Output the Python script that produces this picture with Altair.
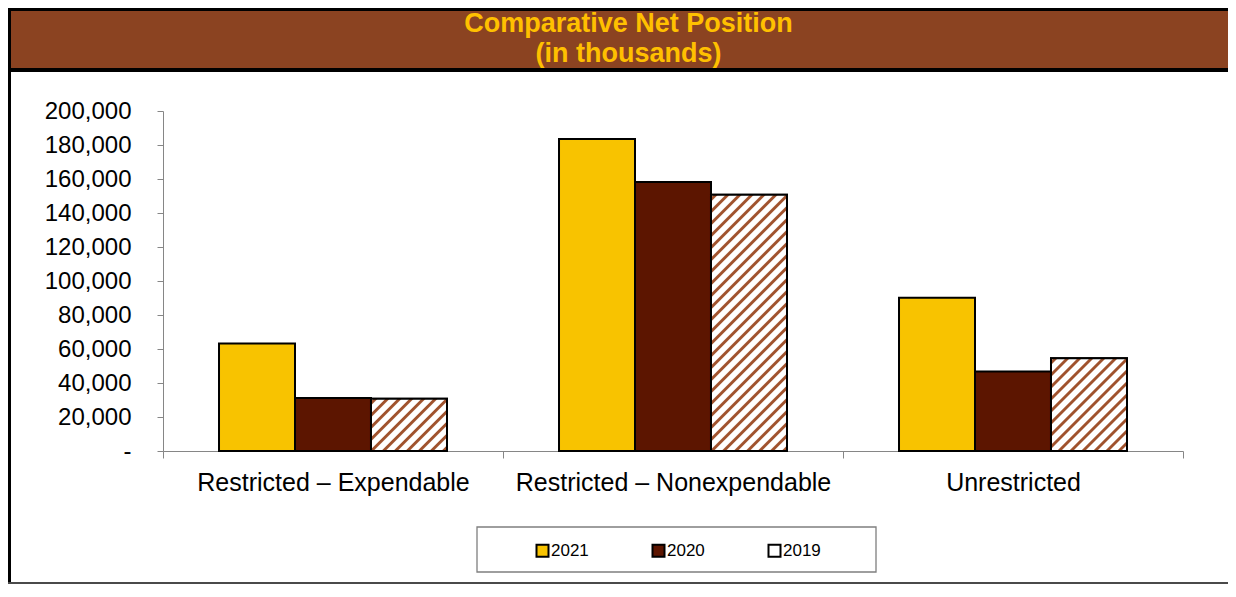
import altair as alt
import pandas as pd

# ---- data ----
categories = ["Restricted – Expendable", "Restricted – Nonexpendable", "Unrestricted"]
years = ["2021", "2020", "2019"]
v2021 = [63200, 183600, 90200]
v2020 = [31200, 158300, 46800]
v2019 = [30800, 150700, 54600]
y_ticks = [0, 20000, 40000, 60000, 80000, 100000, 120000, 140000, 160000, 180000, 200000]
title_lines = ["Comparative Net Position", "(in thousands)"]

colors = ["#F8C300", "#5C1500", "#FFFFFF"]
hatch_color = "#A0522D"
FONT = "Liberation Sans"

# ---- layout ----
PW, PH = 1020, 340
PAD = {"left": 155, "top": 103, "right": 45, "bottom": 133}
Y_MAX = 200000
OFFSET_PAD_OUTER = 0.737  # empty space around each group of three bars

rows = []
for series, vals in zip(years, [v2021, v2020, v2019]):
    for c, v in zip(categories, vals):
        rows.append({"category": c, "year": series, "value": v})
df = pd.DataFrame(rows)

x_enc = alt.X("category:N", sort=categories, title=None,
              scale=alt.Scale(paddingInner=0, paddingOuter=0),
              axis=alt.Axis(labelAngle=0, labelFont=FONT, labelFontSize=25, labelColor="black",
                            labelLimit=600,
                            domainColor="#868686", tickColor="#868686", tickSize=7,
                            tickBand="extent", labelPadding=12, grid=False))
xo_enc = alt.XOffset("year:N", sort=years,
                     scale=alt.Scale(domain=years, paddingInner=0, paddingOuter=OFFSET_PAD_OUTER))
y_enc = alt.Y("value:Q", title=None,
              scale=alt.Scale(domain=[0, Y_MAX], nice=False),
              axis=alt.Axis(values=y_ticks, labelFont=FONT, labelFontSize=24, labelColor="black",
                            labelExpr="datum.value == 0 ? '-' : format(datum.value, ',')",
                            domainColor="#868686", tickColor="#868686", tickSize=6,
                            labelPadding=26, grid=False))

bars = alt.Chart(df).mark_bar(stroke="black", strokeWidth=2).encode(
    x=x_enc, xOffset=xo_enc, y=y_enc,
    fill=alt.Fill("year:N", sort=years,
                  scale=alt.Scale(domain=years, range=colors),
                  legend=alt.Legend(orient="none", legendX=371, legendY=431, direction="horizontal",
                                    title=None, symbolType="square", symbolSize=144,
                                    symbolStrokeColor="black", symbolStrokeWidth=2,
                                    symbolOpacity=1,
                                    labelFont=FONT, labelFontSize=17, labelColor="black",
                                    labelOffset=0, columnPadding=59, padding=0)),
)

# diagonal hatching for 2019 bars, via a linear gradient in the bar's bounding box
bar_w = PW / 3 / (3 + 2 * OFFSET_PAD_OUTER)


def hatch_gradient(value, period=12.0, line=5.5, soft=1.4):
    w = bar_w
    h = value / Y_MAX * PH
    total = w + h
    k = total / (w * w + h * h)
    stops = [{"offset": 0, "color": "white"}]
    pos = 2.0
    while pos < total:
        a, b = pos, pos + line
        for off, col in [(a, "white"), (a + soft, hatch_color), (b - soft, hatch_color), (b, "white")]:
            o = min(max(off / total, 0), 1)
            stops.append({"offset": o, "color": col})
        pos += period
    stops.append({"offset": 1, "color": "white"})
    return {"gradient": "linear", "x1": 0, "y1": 0, "x2": k * w, "y2": k * h, "stops": stops}


hatch_layers = []
for c, v in zip(categories, v2019):
    hatch_layers.append(
        alt.Chart(df).transform_filter(
            (alt.datum.year == "2019") & (alt.datum.category == c)
        ).mark_bar(stroke="black", strokeWidth=2, fill=hatch_gradient(v)).encode(
            x=x_enc, xOffset=xo_enc, y=y_enc)
    )

# ---- decorations (banner, frame, legend box) ----
one = alt.Data(values=[{"k": 1}])
L, T = PAD["left"], PAD["top"]
TOTAL_W = PW + PAD["left"] + PAD["right"]
TOTAL_H = PH + PAD["top"] + PAD["bottom"]


def rect(x0, y0, x1, y1, **kw):
    return alt.Chart(one).mark_rect(**kw).encode(
        x=alt.value(x0), x2=alt.value(x1), y=alt.value(y0), y2=alt.value(y1))


banner_black = rect(-L, -T, TOTAL_W - L, -T + 64, color="black")
banner_brown = rect(-L + 3, -T + 3, TOTAL_W - L, -T + 60, color="#8B4321")
left_border = rect(-L, -T, -L + 3, TOTAL_H - T, color="black")
bottom_border = rect(-L, TOTAL_H - T - 2, TOTAL_W - L, TOTAL_H - T, color="#4A4A4A")
legend_box = rect(314, 416, 713, 461, fill="white", stroke="#7F7F7F", strokeWidth=1.3)

title_marks = []
for line, base in zip(title_lines, [-79.5, -49]):
    title_marks.append(
        alt.Chart(one).mark_text(text=line, font=FONT, fontSize=27, fontWeight="bold",
                                 color="#FFC000", align="center", baseline="alphabetic").encode(
            x=alt.value(465.5), y=alt.value(base))
    )

chart = alt.layer(
    banner_black, banner_brown, left_border, bottom_border, legend_box,
    *title_marks, bars, *hatch_layers
).properties(
    width=PW, height=PH, padding=PAD,
    autosize=alt.AutoSizeParams(type="none"),
    background="white",
).configure_view(stroke=None)

chart.save("out.html", embed_options={"renderer": "svg", "actions": False})
